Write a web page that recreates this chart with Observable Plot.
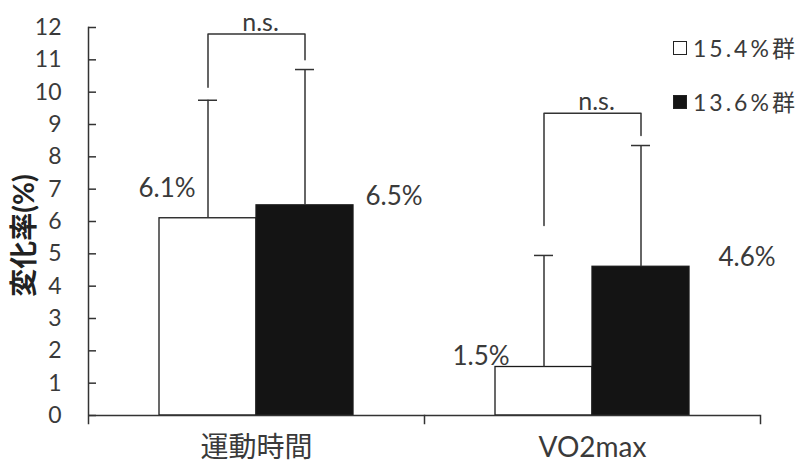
<!DOCTYPE html>
<html>
<head>
<meta charset="utf-8">
<script src="https://cdn.jsdelivr.net/npm/d3@7"></script>
<script src="https://cdn.jsdelivr.net/npm/@observablehq/plot@0.6"></script>
<style>
  html, body { margin: 0; padding: 0; background: #fff; }
  #chart { position: relative; width: 800px; height: 465px; font-family: Lato, "Noto Sans CJK JP", sans-serif; color: #3a3a3a; }
  #chart svg { display: block; }
  .legend { position: absolute; left: 673px; top: 34px; }
  .legend .item { display: flex; align-items: center; height: 28px; margin-bottom: 26px; font-size: 23px; line-height: 28px; letter-spacing: 3px; }
  .legend .swatch { width: 14px; height: 14px; box-sizing: border-box; margin-right: 6px; }
</style>
</head>
<body>
<div id="chart"></div>
<script>
// Percent change by group, mean and SD
const categories = ["運動時間", "VO2max"];
const groups = ["15.4%群", "13.6%群"];
const groupFills = ["#ffffff", "#141414"];
const meansA = [6.1, 1.5];   // 15.4%群
const meansB = [6.5, 4.6];   // 13.6%群
const sdA = [3.65, 3.45];
const sdB = [4.2, 3.75];
const yTicks = [0, 1, 2, 3, 4, 5, 6, 7, 8, 9, 10, 11, 12];

// significance brackets (one per category)
const sigText = ["n.s.", "n.s."];
const bracketTop = [11.8, 9.35];
const bracketLeftEnd = [10.15, 5.88];
const bracketRightEnd = [11.0, 8.66];

const rows = categories.flatMap((cat, i) => [
  {cat, grp: groups[0], value: meansA[i], sd: sdA[i]},
  {cat, grp: groups[1], value: meansB[i], sd: sdB[i]}
]);

const brackets = categories.map((cat, i) => ({cat, top: bracketTop[i], text: sigText[i]}));
const bracketPath = categories.flatMap((cat, i) => [
  {cat, grp: groups[0], y: bracketLeftEnd[i]},
  {cat, grp: groups[0], y: bracketTop[i]},
  {cat, grp: groups[1], y: bracketTop[i]},
  {cat, grp: groups[1], y: bracketRightEnd[i]}
]);

// hand placement of each value label relative to its bar top (px)
const labelNudge = [[-41, -30], [89, -9], [-63, -10], [106, -9]];

const W = 800, H = 465;
const M = {top: 27, right: 40, bottom: 50, left: 88};
const innerH = H - M.top - M.bottom;
const ink = "#333";

const valueLabels = rows.map((r, i) => Plot.text([r], {
  fx: "cat", x: "grp", y: "value",
  text: d => d.value.toFixed(1) + "%",
  dx: labelNudge[i][0], dy: labelNudge[i][1],
  fontSize: 26, fill: "#3a3a3a"
}));

const chart = Plot.plot({
  width: W, height: H,
  marginTop: M.top, marginRight: M.right, marginBottom: M.bottom, marginLeft: M.left,
  style: {fontFamily: 'Lato, "Noto Sans CJK JP", sans-serif', color: "#3a3a3a", background: "transparent", overflow: "visible"},
  fx: {domain: categories, padding: 0, label: null},
  x: {domain: groups, paddingInner: 0, paddingOuter: 0.73, axis: null},
  y: {domain: [0, 12], label: null},
  color: {domain: groups, range: groupFills},
  marks: [
    // y axis: labels outside, ticks pointing inward
    Plot.axisY({ticks: yTicks, tickSize: 0, tickPadding: 27, fontSize: 23, label: null, fill: "#3a3a3a"}),
    Plot.axisY({ticks: yTicks, tickSize: 8, dx: 8, fill: "none", stroke: ink, strokeWidth: 1.5}),
    Plot.frame({anchor: "left", facetAnchor: "left", insetBottom: -8, stroke: ink, strokeWidth: 1.5}),
    // category axis with ticks between categories
    Plot.axisFx({anchor: "bottom", tickSize: 0, tickPadding: 22, fontSize: 28, label: null, fill: "#3a3a3a"}),
    Plot.frame({anchor: "right", insetTop: innerH, insetBottom: -8, stroke: ink, strokeWidth: 1.5}),
    // axis title
    Plot.text(["変化率(%)"], {
      fx: () => categories[0], frameAnchor: "left", textAnchor: "middle",
      rotate: -90, dx: -63, dy: 14, fontSize: 28, fontWeight: "bold", fill: "#222"
    }),
    // bars
    Plot.barY(rows, {fx: "cat", x: "grp", y: "value", fill: "grp", stroke: "#1a1a1a", strokeWidth: 1.3}),
    // error bars (upper only)
    Plot.ruleX(rows, {fx: "cat", x: "grp", y1: "value", y2: d => d.value + d.sd, stroke: ink, strokeWidth: 1.5}),
    Plot.tickY(rows, {fx: "cat", x: "grp", y: d => d.value + d.sd, insetLeft: 39, insetRight: 39, stroke: ink, strokeWidth: 1.5}),
    // baseline
    Plot.ruleY([0], {stroke: ink, strokeWidth: 1.5}),
    // significance brackets
    Plot.line(bracketPath, {fx: "cat", x: "grp", y: "y", z: "cat", stroke: ink, strokeWidth: 1.5}),
    Plot.text(brackets, {fx: "cat", y: "top", text: "text", frameAnchor: "middle", lineAnchor: "bottom", dx: 4, dy: -3, fontSize: 25, fill: "#3a3a3a"}),
    ...valueLabels
  ]
});

const root = d3.select("#chart");
root.node().appendChild(chart);

// legend
const legend = root.append("div").attr("class", "legend");
groups.forEach((g, i) => {
  const item = legend.append("div").attr("class", "item");
  item.append("span").attr("class", "swatch")
    .style("background", groupFills[i])
    .style("border", "1.5px solid #222");
  item.append("span").text(g);
});
</script>
</body>
</html>
